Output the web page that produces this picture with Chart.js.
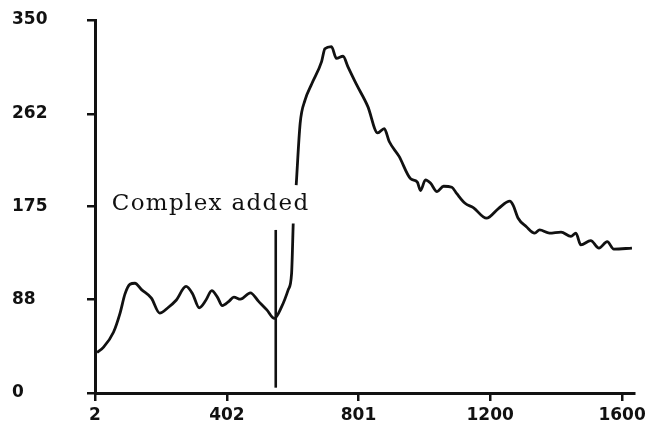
<!DOCTYPE html>
<html>
<head>
<meta charset="utf-8">
<script src="https://cdn.jsdelivr.net/npm/chart.js@4.4.1/dist/chart.umd.min.js"></script>
<style>
  html, body { margin: 0; padding: 0; background: #fff; }
  #c { display: block; }
</style>
</head>
<body>
<canvas id="c" width="650" height="426"></canvas>
<script>
// ---- data ----
const timeValues = [8, 28, 58, 78, 93, 108, 123, 143, 173, 198, 223, 248, 278, 298, 318, 338, 356, 373, 388, 408,
  423, 443, 473, 498, 523, 546, 568, 588, 598, 603, 607, 612, 624, 639, 659, 689, 699, 719, 734, 754,
  769, 794, 829, 859, 879, 894, 924, 959, 979, 989, 1004, 1019, 1039, 1059, 1084, 1099, 1124, 1149, 1189, 1225,
  1260, 1270, 1285, 1310, 1335, 1350, 1380, 1415, 1445, 1460, 1475, 1505, 1530, 1555, 1575, 1630];
const signalValues = [38, 43, 57, 75, 93, 102, 103, 97, 89, 75, 80, 87, 100, 93, 80, 87, 96, 90, 82, 86,
  90, 88, 94, 86, 78, 70, 81, 97, 112, 159, null, 195, 253, 275, 290, 311, 323, 325, 314, 316,
  306, 290, 269, 244, 248, 236, 222, 201, 198, 190, 200, 197, 189, 194, 193, 187, 178, 174, 164, 173,
  180, 176, 164, 156, 150, 153, 150, 151, 147, 150, 139, 143, 136, 142, 135, 136];
const markerX = [550, 550];
const markerY = [5, 153];
const xTickLabels = [2, 402, 801, 1200, 1600];
const yTickLabels = [0, 88, 175, 262, 350];
const annotationText = 'Complex added';
const annotationAt = [53, 172];

const lineData = timeValues.map((x, i) => ({ x: x, y: signalValues[i] }));
const markerData = markerX.map((x, i) => ({ x: x, y: markerY[i] }));

const annotationPlugin = {
  id: 'annotationText',
  afterDatasetsDraw(chart) {
    const ctx = chart.ctx;
    const xs = chart.scales.x, ys = chart.scales.y;
    ctx.save();
    ctx.fillStyle = '#111';
    ctx.font = '23px "DejaVu Serif"';
    if ('letterSpacing' in ctx) ctx.letterSpacing = '1.3px';
    ctx.textAlign = 'left';
    ctx.textBaseline = 'alphabetic';
    ctx.fillText(annotationText, xs.getPixelForValue(annotationAt[0]), ys.getPixelForValue(annotationAt[1]));
    ctx.restore();
  }
};

const tickFont = { family: 'DejaVu Sans', size: 17, weight: 'bold' };

new Chart(document.getElementById('c'), {
  type: 'line',
  data: {
    datasets: [
      {
        data: lineData,
        borderColor: '#111',
        borderWidth: 2.8,
        pointRadius: 0,
        cubicInterpolationMode: 'monotone',
        spanGaps: false,
        fill: false
      },
      {
        data: markerData,
        borderColor: '#111',
        borderWidth: 2.6,
        pointRadius: 0,
        tension: 0,
        fill: false
      }
    ]
  },
  options: {
    responsive: false,
    animation: false,
    devicePixelRatio: 1,
    layout: { padding: { left: 12, top: 20, right: 13, bottom: 0 } },
    plugins: { legend: { display: false }, tooltip: { enabled: false } },
    scales: {
      x: {
        type: 'linear',
        min: 2,
        max: 1636,
        afterBuildTicks: (axis) => { axis.ticks = xTickLabels.map(v => ({ value: v })); },
        afterFit: (axis) => { axis.height = 33; },
        border: { display: true, color: '#111', width: 3 },
        grid: { drawOnChartArea: false, drawTicks: true, tickLength: 8, color: '#111', lineWidth: 2.5 },
        ticks: { color: '#111', font: tickFont, padding: 4, maxRotation: 0, autoSkip: false,
                 callback: (v) => String(v) }
      },
      y: {
        type: 'linear',
        min: 0,
        max: 350,
        afterBuildTicks: (axis) => { axis.ticks = yTickLabels.map(v => ({ value: v })); },
        afterFit: (axis) => { axis.width = 83; },
        border: { display: true, color: '#111', width: 3 },
        grid: { drawOnChartArea: false, drawTicks: true, tickLength: 8, color: '#111', lineWidth: 2.5 },
        ticks: { color: '#111', font: tickFont, crossAlign: 'far', autoSkip: false,
                 callback: (v) => String(v) }
      }
    }
  },
  plugins: [annotationPlugin]
});
</script>
</body>
</html>
